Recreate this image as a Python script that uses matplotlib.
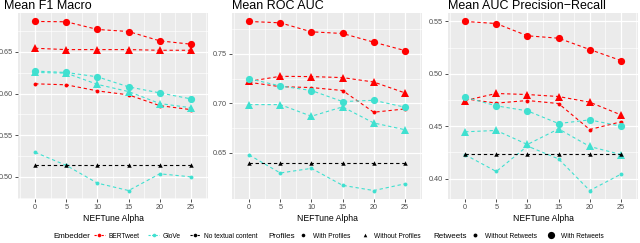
import matplotlib.pyplot as plt
from matplotlib.lines import Line2D
import numpy as np

plt.rcParams['font.family'] = ['Liberation Sans', 'DejaVu Sans']

alpha = [0, 5, 10, 15, 20, 25]

# series: (embedder, profiles, retweets)
series = [
    ('BERTweet', 'With Profiles', 'With Retweets'),
    ('BERTweet', 'Without Profiles', 'With Retweets'),
    ('BERTweet', 'With Profiles', 'Without Retweets'),
    ('GloVe', 'With Profiles', 'With Retweets'),
    ('GloVe', 'Without Profiles', 'With Retweets'),
    ('GloVe', 'With Profiles', 'Without Retweets'),
    ('No textual content', 'Without Profiles', 'Without Retweets'),
]

f1_macro = [
    [0.6866, 0.6862, 0.6770, 0.6745, 0.6633, 0.6593],
    [0.6544, 0.6528, 0.6528, 0.6528, 0.6520, 0.6520],
    [0.6117, 0.6105, 0.6032, 0.5984, 0.5855, 0.5807],
    [0.6270, 0.6253, 0.6201, 0.6080, 0.6008, 0.5936],
    [0.6253, 0.6245, 0.6110, 0.6024, 0.5880, 0.5830],
    [0.5294, 0.5137, 0.4924, 0.4835, 0.5036, 0.5000],
    [0.5140, 0.5140, 0.5140, 0.5140, 0.5140, 0.5140],
]
roc_auc = [
    [0.7829, 0.7815, 0.7724, 0.7707, 0.7619, 0.7534],
    [0.7222, 0.7273, 0.7270, 0.7260, 0.7215, 0.7105],
    [0.7212, 0.7168, 0.7159, 0.7129, 0.6909, 0.6942],
    [0.7249, 0.7175, 0.7129, 0.7017, 0.7030, 0.6960],
    [0.6986, 0.6986, 0.6868, 0.6963, 0.6800, 0.6732],
    [0.6476, 0.6293, 0.6340, 0.6168, 0.6115, 0.6183],
    [0.6398, 0.6398, 0.6398, 0.6398, 0.6398, 0.6398],
]
pr_auc = [
    [0.5500, 0.5480, 0.5363, 0.5340, 0.5232, 0.5127],
    [0.4745, 0.4812, 0.4802, 0.4783, 0.4729, 0.4608],
    [0.4761, 0.4720, 0.4745, 0.4716, 0.4468, 0.4541],
    [0.4777, 0.4694, 0.4646, 0.4525, 0.4560, 0.4500],
    [0.4446, 0.4459, 0.4325, 0.4474, 0.4306, 0.4229],
    [0.4227, 0.4067, 0.4310, 0.4187, 0.3885, 0.4041],
    [0.4236, 0.4236, 0.4236, 0.4236, 0.4236, 0.4236],
]

titles = ['Mean F1 Macro', 'Mean ROC AUC', 'Mean AUC Precision\u2212Recall']
panels = [f1_macro, roc_auc, pr_auc]
yticks = [[0.50, 0.55, 0.60, 0.65], [0.65, 0.70, 0.75], [0.40, 0.45, 0.50, 0.55]]

colors = {'BERTweet': '#FF0000', 'GloVe': '#40E0D0', 'No textual content': '#000000'}
markers = {'With Profiles': 'o', 'Without Profiles': '^'}
sizes = {'With Retweets': 5.2, 'Without Retweets': 2.8}

W, H = 640, 243
fig = plt.figure(figsize=(W / 100, H / 100), dpi=100)

lefts = [18, 232, 448]
title_x = [4, 232, 448]
pw = 190
top, bottom = 13, 199

for k in range(3):
    ax = fig.add_axes([lefts[k] / W, (H - bottom) / H, pw / W, (bottom - top) / H])
    ax.set_facecolor('#EBEBEB')
    for s, vals in zip(series, panels[k]):
        ms = sizes[s[2]]
        if markers[s[1]] == '^':
            ms = ms * 1.15
        ax.plot(alpha, vals, color=colors[s[0]], marker=markers[s[1]], markersize=ms,
                linestyle=(0, (3, 2.5)), linewidth=0.8, markeredgewidth=0, zorder=3)
    allv = np.array(panels[k])
    lo, hi = allv.min(), allv.max()
    pad = (hi - lo) * 0.05
    ax.set_xlim(-2.75, 27.75)
    ax.set_xticks(alpha)
    ax.set_xticks([-2.5, 2.5, 7.5, 12.5, 17.5, 22.5, 27.5], minor=True)
    yt = yticks[k]
    ax.set_yticks(yt)
    ax.set_yticks([yt[0] - 0.025] + [v + 0.025 for v in yt], minor=True)
    ax.set_ylim(lo - pad, hi + pad)
    ax.set_xticklabels([str(a) for a in alpha])
    ax.set_yticklabels(['%.2f' % v for v in yt])
    ax.grid(which='major', color='white', linewidth=0.9, zorder=0)
    ax.grid(which='minor', color='white', linewidth=0.45, zorder=0)
    ax.set_axisbelow(True)
    for sp in ax.spines.values():
        sp.set_visible(False)
    ax.tick_params(which='major', length=2, width=0.6, color='#333333',
                   labelsize=5.2, labelcolor='#4D4D4D', pad=1.5)
    ax.tick_params(which='minor', length=0)
    ax.set_xlabel('NEFTune Alpha', fontsize=6.2, labelpad=2)
    fig.text(title_x[k] / W, (H - 9) / H, titles[k], fontsize=9, ha='left', va='baseline')

# legends along the bottom
ly = (H - 236) / H

fig.text(53 / W, ly, 'Embedder', fontsize=5.8, va='center', ha='left')
emb_handles = [Line2D([], [], color=colors[e], marker='o', markersize=2.6,
                      linestyle=(0, (2, 1.2)), linewidth=0.8, markeredgewidth=0)
               for e in ['BERTweet', 'GloVe', 'No textual content']]
fig.legend(emb_handles, ['BERTweet', 'GloVe', 'No textual content'], ncol=3,
           loc='center left', bbox_to_anchor=(94 / W, ly), frameon=False,
           fontsize=4.8, handlelength=1.6, handletextpad=0.6, columnspacing=1.3,
           borderpad=0, borderaxespad=0)

fig.text(268 / W, ly, 'Profiles', fontsize=5.8, va='center', ha='left')
prof_handles = [Line2D([], [], color='black', marker=markers[p], markersize=2.6,
                       linestyle='none', markeredgewidth=0)
                for p in ['With Profiles', 'Without Profiles']]
fig.legend(prof_handles, ['With Profiles', 'Without Profiles'], ncol=2,
           loc='center left', bbox_to_anchor=(298 / W, ly), frameon=False,
           fontsize=4.8, handlelength=1.6, handletextpad=0.6, columnspacing=1.4,
           borderpad=0, borderaxespad=0)

fig.text(433 / W, ly, 'Retweets', fontsize=5.8, va='center', ha='left')
rt_handles = [Line2D([], [], color='black', marker='o', markersize=sizes[r],
                     linestyle='none', markeredgewidth=0)
              for r in ['Without Retweets', 'With Retweets']]
fig.legend(rt_handles, ['Without Retweets', 'With Retweets'], ncol=2,
           loc='center left', bbox_to_anchor=(470 / W, ly), frameon=False,
           fontsize=4.8, handlelength=1.6, handletextpad=0.6, columnspacing=1.4,
           borderpad=0, borderaxespad=0)

fig.savefig('out.png', dpi=100)
